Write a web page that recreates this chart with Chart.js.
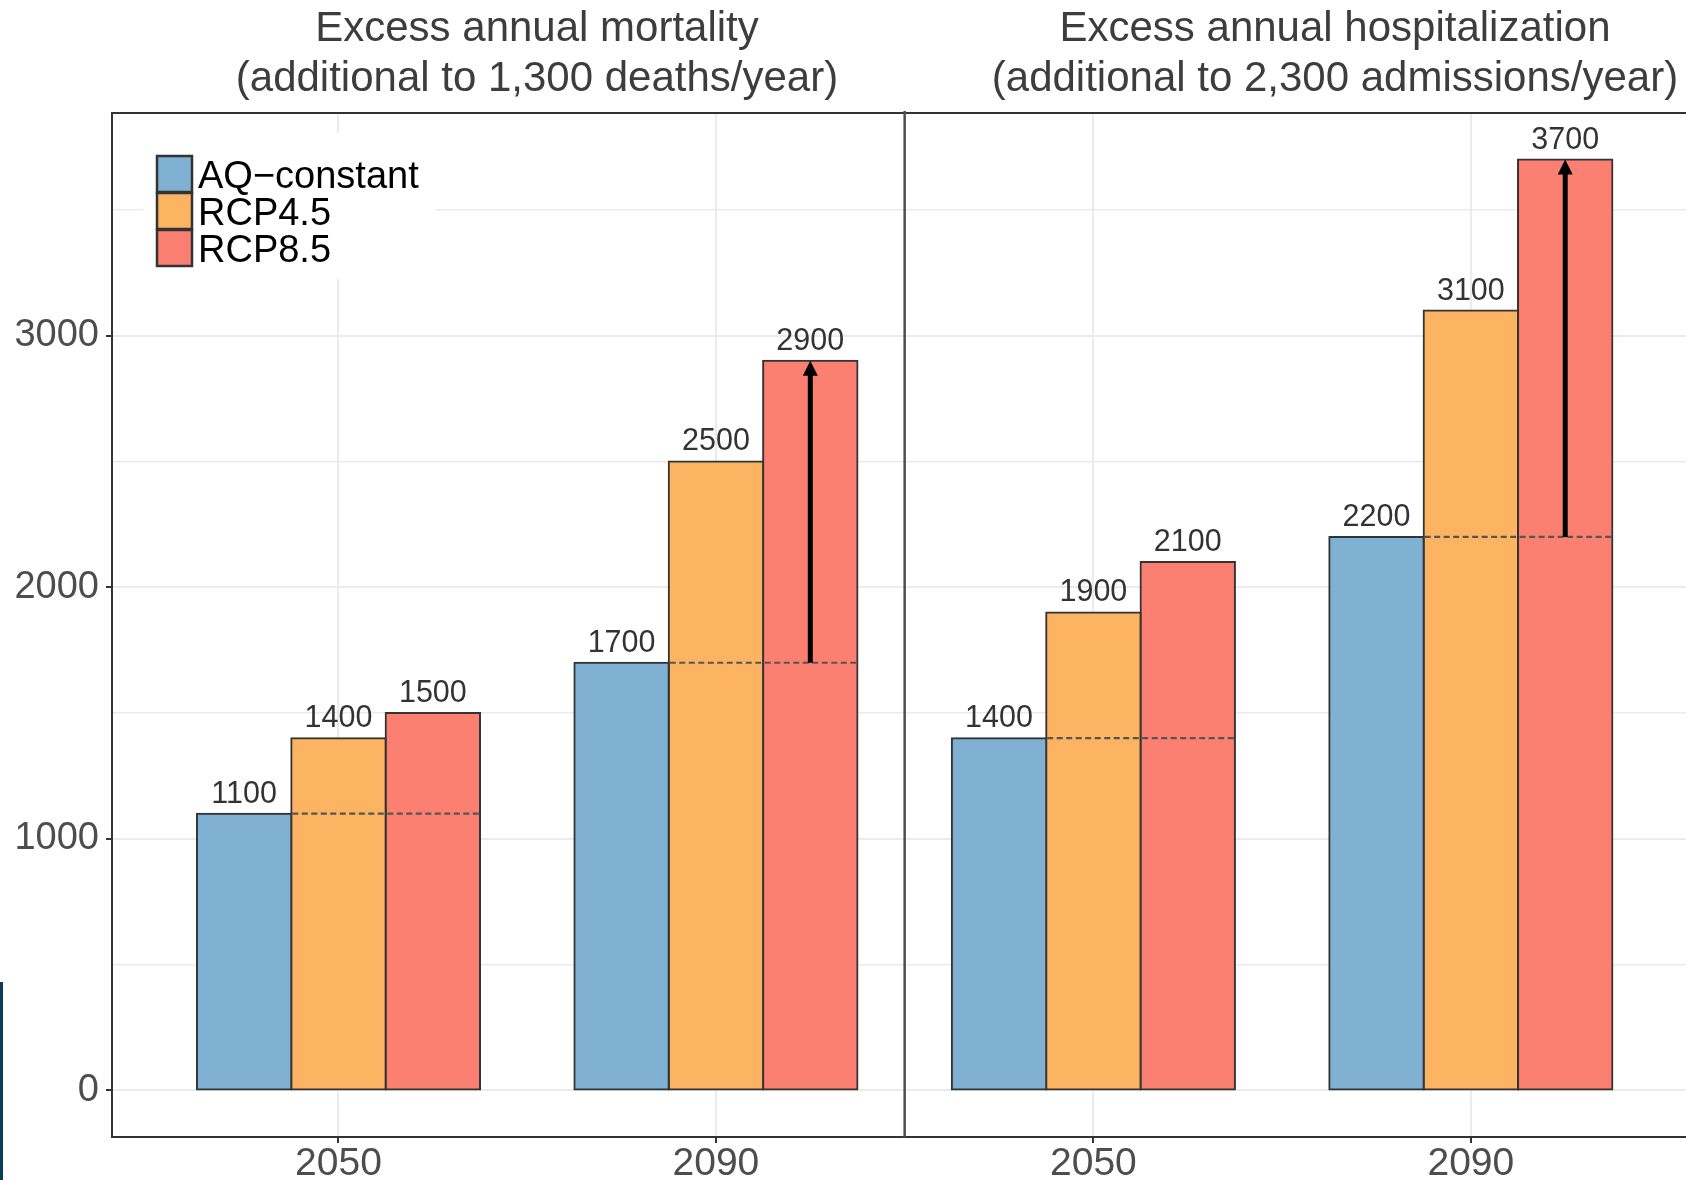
<!DOCTYPE html>
<html>
<head>
<meta charset="utf-8">
<script src="https://cdn.jsdelivr.net/npm/chart.js@4"></script>
<style>
  html, body { margin: 0; padding: 0; background: #fff; overflow: hidden; }
  #wrap { position: relative; width: 1686px; height: 1180px; }
  #strip { position: absolute; left: 0; top: 982px; width: 3px; height: 198px; background: #0c3c58; }
</style>
</head>
<body>
<div id="wrap">
  <canvas id="c" width="1686" height="1180"></canvas>
  <div id="strip"></div>
</div>
<script>
// Groups along the x axis (two per panel) and the three scenario series
const years = ['2050', '2090', '2050', '2090'];
const seriesNames = ['AQ\u2212constant', 'RCP4.5', 'RCP8.5'];
const aqConstant = [1100, 1700, 1400, 2200];
const rcp45 = [1400, 2500, 1900, 3100];
const rcp85 = [1500, 2900, 2100, 3700];
// Groups where an arrow shows the rise from AQ-constant to RCP8.5
const arrowGroups = [1, 3];
const panelTitles = [
  ['Excess annual mortality', '(additional to 1,300 deaths/year)'],
  ['Excess annual hospitalization', '(additional to 2,300 admissions/year)']
];
const yTicks = [0, 500, 1000, 1500, 2000, 2500, 3000, 3500];

const FONT = "'Liberation Sans', Arial, Helvetica, sans-serif";
const colors = ['#80b1d3', '#fdb462', '#fb8072'];

const decor = {
  id: 'decor',
  afterDatasetsDraw(chart) {
    const ctx = chart.ctx, ys = chart.scales.y;
    const metas = [0, 1, 2].map(i => chart.getDatasetMeta(i));
    ctx.save();
    // dashed AQ-constant reference across the two scenario bars
    ctx.strokeStyle = '#555';
    ctx.lineWidth = 2.2;
    ctx.setLineDash([6, 3.5]);
    aqConstant.forEach((v, j) => {
      const o = metas[1].data[j], r = metas[2].data[j];
      const y = ys.getPixelForValue(v);
      ctx.beginPath();
      ctx.moveTo(o.x - o.width / 2 + 1, y);
      ctx.lineTo(r.x + r.width / 2, y);
      ctx.stroke();
    });
    ctx.setLineDash([]);
    // arrows
    arrowGroups.forEach(j => {
      const r = metas[2].data[j];
      const y0 = ys.getPixelForValue(aqConstant[j]);
      const y1 = ys.getPixelForValue(rcp85[j]);
      ctx.strokeStyle = '#000';
      ctx.lineWidth = 5;
      ctx.beginPath();
      ctx.moveTo(r.x, y0);
      ctx.lineTo(r.x, y1 + 12);
      ctx.stroke();
      ctx.fillStyle = '#000';
      ctx.beginPath();
      ctx.moveTo(r.x, y1);
      ctx.lineTo(r.x - 7.5, y1 + 15);
      ctx.lineTo(r.x + 7.5, y1 + 15);
      ctx.closePath();
      ctx.fill();
    });
    // value labels
    ctx.font = '30.5px ' + FONT;
    ctx.fillStyle = '#333';
    ctx.textAlign = 'center';
    ctx.textBaseline = 'alphabetic';
    chart.data.datasets.forEach((ds, i) => {
      metas[i].data.forEach((bar, j) => {
        ctx.fillText(String(ds.data[j].y), bar.x, bar.y - 11);
      });
    });
    ctx.restore();
  },
  afterDraw(chart) {
    const ctx = chart.ctx, xs = chart.scales.x, area = chart.chartArea;
    ctx.save();
    // top frame line
    ctx.strokeStyle = '#333';
    ctx.lineWidth = 2;
    ctx.beginPath();
    ctx.moveTo(area.left - 1, area.top);
    ctx.lineTo(area.right, area.top);
    ctx.stroke();
    // panel divider
    const xd = xs.getPixelForValue(2.5);
    ctx.strokeStyle = '#4d4d4d';
    ctx.lineWidth = 2.5;
    ctx.beginPath();
    ctx.moveTo(xd, area.top - 2);
    ctx.lineTo(xd, area.bottom);
    ctx.stroke();
    // panel titles
    ctx.font = '42px ' + FONT;
    ctx.fillStyle = '#3d3d3d';
    ctx.textAlign = 'center';
    ctx.textBaseline = 'alphabetic';
    const titleX = [537, 1335];
    panelTitles.forEach((lines, p) => {
      lines.forEach((t, k) => ctx.fillText(t, titleX[p], 41 + k * 50));
    });
    // legend
    ctx.fillStyle = '#fff';
    ctx.fillRect(143, 133, 292, 146);
    const keyTop = [156, 193, 230];
    ctx.font = '38px ' + FONT;
    ctx.textAlign = 'left';
    chart.data.datasets.forEach((ds, i) => {
      ctx.fillStyle = ds.backgroundColor;
      ctx.fillRect(157, keyTop[i], 35, 36);
      ctx.strokeStyle = '#333';
      ctx.lineWidth = 2.5;
      ctx.strokeRect(157, keyTop[i], 35, 36);
      ctx.fillStyle = '#000';
      ctx.fillText(ds.label, 198, keyTop[i] + 18 + 13.6);
    });
    ctx.restore();
  }
};

new Chart(document.getElementById('c'), {
  type: 'bar',
  data: {
    datasets: [aqConstant, rcp45, rcp85].map((vals, i) => ({
      label: seriesNames[i],
      data: vals.map((v, j) => ({ x: j + 1, y: v })),
      backgroundColor: colors[i],
      borderColor: '#333',
      borderWidth: 2,
      borderSkipped: false,
      inflateAmount: 1,
      categoryPercentage: 0.75,
      barPercentage: 1
    }))
  },
  options: {
    responsive: false,
    animation: false,
    devicePixelRatio: 1,
    layout: { padding: { top: 113, left: 0, right: 0, bottom: 0 } },
    plugins: { legend: { display: false }, tooltip: { enabled: false } },
    scales: {
      x: {
        type: 'linear',
        min: 0.4,
        max: 4.57,
        bounds: 'data',
        offset: false,
        afterBuildTicks: s => { s.ticks = years.map((_, i) => ({ value: i + 1 })); },
        afterFit: s => { s.height = 43; },
        ticks: {
          callback: v => years[v - 1] ?? '',
          color: '#4d4d4d',
          font: { family: FONT, size: 39 },
          padding: -2,
          maxRotation: 0,
          autoSkip: false
        },
        grid: { color: '#ebebeb', lineWidth: 2, tickColor: '#333', tickLength: 6, tickWidth: 2, offset: false },
        border: { display: true, color: '#333', width: 2 }
      },
      y: {
        min: -185,
        max: 3885,
        bounds: 'data',
        afterBuildTicks: s => { s.ticks = yTicks.map(v => ({ value: v })); },
        afterFit: s => { s.width = 112; },
        ticks: {
          callback: v => (v % 1000 === 0 ? String(v) : ''),
          color: '#4d4d4d',
          font: { family: FONT, size: 38 },
          padding: 7
        },
        grid: {
          color: '#ebebeb',
          lineWidth: c => (c.tick && c.tick.value % 1000 === 0 ? 2 : 1.5),
          tickColor: c => (c.tick && c.tick.value % 1000 === 0 ? '#333' : 'rgba(0,0,0,0)'),
          tickLength: 6,
          tickWidth: 2
        },
        border: { display: true, color: '#333', width: 2 }
      }
    }
  },
  plugins: [decor]
});
</script>
</body>
</html>
